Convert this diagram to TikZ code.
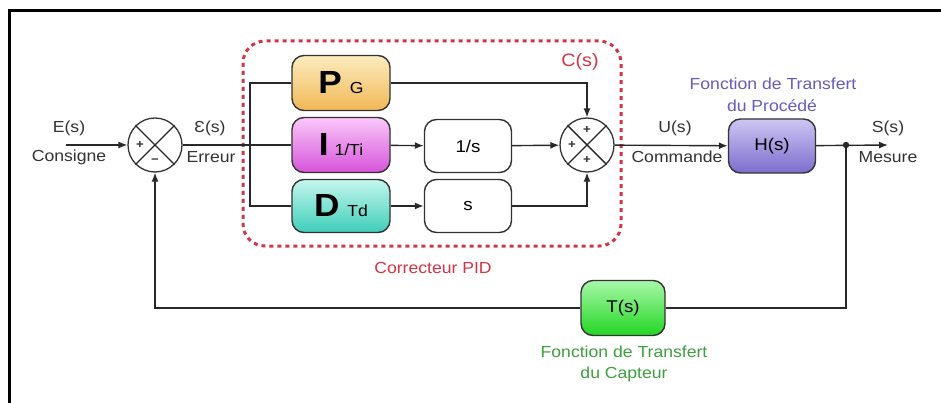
\documentclass[tikz,border=0pt]{standalone}
\usepackage{fontspec}
\setmainfont[FakeStretch=1.1]{Liberation Sans}
\usetikzlibrary{arrows.meta,shapes.geometric}

\definecolor{wirec}{RGB}{40,40,40}
\definecolor{pidred}{RGB}{212,52,72}
\definecolor{procviolet}{RGB}{104,92,186}
\definecolor{captgreen}{RGB}{60,160,60}

\begin{document}
\begin{tikzpicture}[x=1pt,y=-1pt,
  lbl/.style={font=\fontsize{16}{16}\selectfont, text=black!80, inner sep=0pt},
  blk/.style={draw=black!80, line width=1.4pt, rounded corners=12pt,
    minimum width=98pt, minimum height=55pt, inner sep=0pt,
    font=\fontsize{17}{17}\selectfont},
  sumnode/.style={draw=black!80, circle, line width=1.3pt, minimum size=54pt, inner sep=0pt},
  wire/.style={line width=1.4pt, draw=wirec},
  arr/.style={wire, -{Latex[length=9pt,width=7pt]}},
  sgn/.style={font=\fontsize{12}{12}\selectfont\bfseries, inner sep=0pt, text=black!80},
]
\useasboundingbox (0,0) rectangle (941,403);
\fill[white] (0,0) rectangle (941,403);

% outer frame (left and top edges)
\draw[line width=2.5pt, black] (9.5,403) -- (9.5,10.5) -- (941,10.5);

% PID corrector frame
\draw[pidred, line width=3pt, dash pattern=on 4pt off 4pt, rounded corners=22pt]
  (243,41) rectangle (621,246);
\node[lbl, text=pidred, font=\fontsize{18}{18}\selectfont] (cs) at (580,62) {C(s)};
\node[lbl, text=pidred] (cpid) at (433,268) {Correcteur PID};

% summing junctions
\node[sumnode] (s1) at (155,145) {};
\draw[wire] (s1.north west) -- (s1.south east) (s1.north east) -- (s1.south west);
\node[sgn] (s1p) at (140,145) {+};
\node[sgn] (s1m) at (155,161) {\textminus};

\node[sumnode] (s2) at (587,145) {};
\draw[wire] (s2.north west) -- (s2.south east) (s2.north east) -- (s2.south west);
\node[sgn] (s2t) at (587,130) {+};
\node[sgn] (s2l) at (572,145) {+};
\node[sgn] (s2b) at (587,160) {+};

% PID blocks
\node[blk, top color={rgb,255:red,252;green,236;blue,190}, bottom color={rgb,255:red,240;green,184;blue,86}]
  (pb) at (341,83) {{\fontsize{32}{32}\selectfont\bfseries P}\hspace{8pt}{\fontsize{16}{16}\selectfont G}};
\node[blk, top color={rgb,255:red,250;green,200;blue,250}, bottom color={rgb,255:red,214;green,84;blue,218}]
  (ib) at (341,145) {{\fontsize{32}{32}\selectfont\bfseries I}\hspace{6pt}{\fontsize{16}{16}\selectfont 1/Ti}};
\node[blk, minimum height=53pt, top color={rgb,255:red,196;green,246;blue,236}, bottom color={rgb,255:red,62;green,206;blue,186}]
  (db) at (341,206) {{\fontsize{32}{32}\selectfont\bfseries D}\hspace{8pt}{\fontsize{16}{16}\selectfont Td}};

\node[blk, fill=white, minimum width=87pt, minimum height=53pt] (integ) at (468,146) {1/s};
\node[blk, fill=white, minimum width=87pt, minimum height=53pt] (deriv) at (468,206) {s};

% process and sensor
\node[blk, minimum width=87pt, minimum height=54pt, top color={rgb,255:red,206;green,198;blue,244}, bottom color={rgb,255:red,124;green,108;blue,204}]
  (hb) at (772,146) {H(s)};
\node[blk, minimum width=84pt, minimum height=55pt, top color={rgb,255:red,168;green,248;blue,168}, bottom color={rgb,255:red,34;green,214;blue,34}]
  (tb) at (623,308) {T(s)};

\node[lbl, text=procviolet] (hl1) at (773,84) {Fonction de Transfert};
\node[lbl, text=procviolet] (hl2) at (772,106) {du Procédé};
\node[lbl, text=captgreen] (tl1) at (624,352) {Fonction de Transfert};
\node[lbl, text=captgreen] (tl2) at (624,374) {du Capteur};

% signal labels
\node[lbl] (el1) at (69,128) {E(s)};
\node[lbl] (el2) at (69,157) {Consigne};
\node[lbl] (er1) at (210,128) {Ɛ(s)};
\node[lbl] (er2) at (211,157) {Erreur};
\node[lbl] (ul1) at (675,128) {U(s)};
\node[lbl] (ul2) at (677,157) {Commande};
\node[lbl] (sl1) at (888,128) {S(s)};
\node[lbl] (sl2) at (888,157) {Mesure};

% connection points
\coordinate (in) at (66,145);
\coordinate (split) at (250,145);
\coordinate (out) at (888,145);
\coordinate (tap) at (846,145);

% signal flow
\draw[arr] (in) -- (s1);
\draw[wire] (s1) -- (split) -- (ib);
\draw[wire] (split) |- (pb.west);
\draw[wire] (split) |- (db.west);
\draw[arr] (pb.east) -| (s2.north);
\draw[arr] (ib) -- (integ);
\draw[arr] (integ) -- (s2);
\draw[arr] (db) -- (deriv);
\draw[arr] (deriv.east) -| (s2.south);
\draw[arr] (s2) -- (hb);
\draw[arr] (hb) -- (out);
\fill[wirec] (tap) circle (3.2pt);
\draw[wire] (tap) |- (tb.east);
\draw[arr] (tb.west) -| (s1.south);
\end{tikzpicture}
\end{document}
